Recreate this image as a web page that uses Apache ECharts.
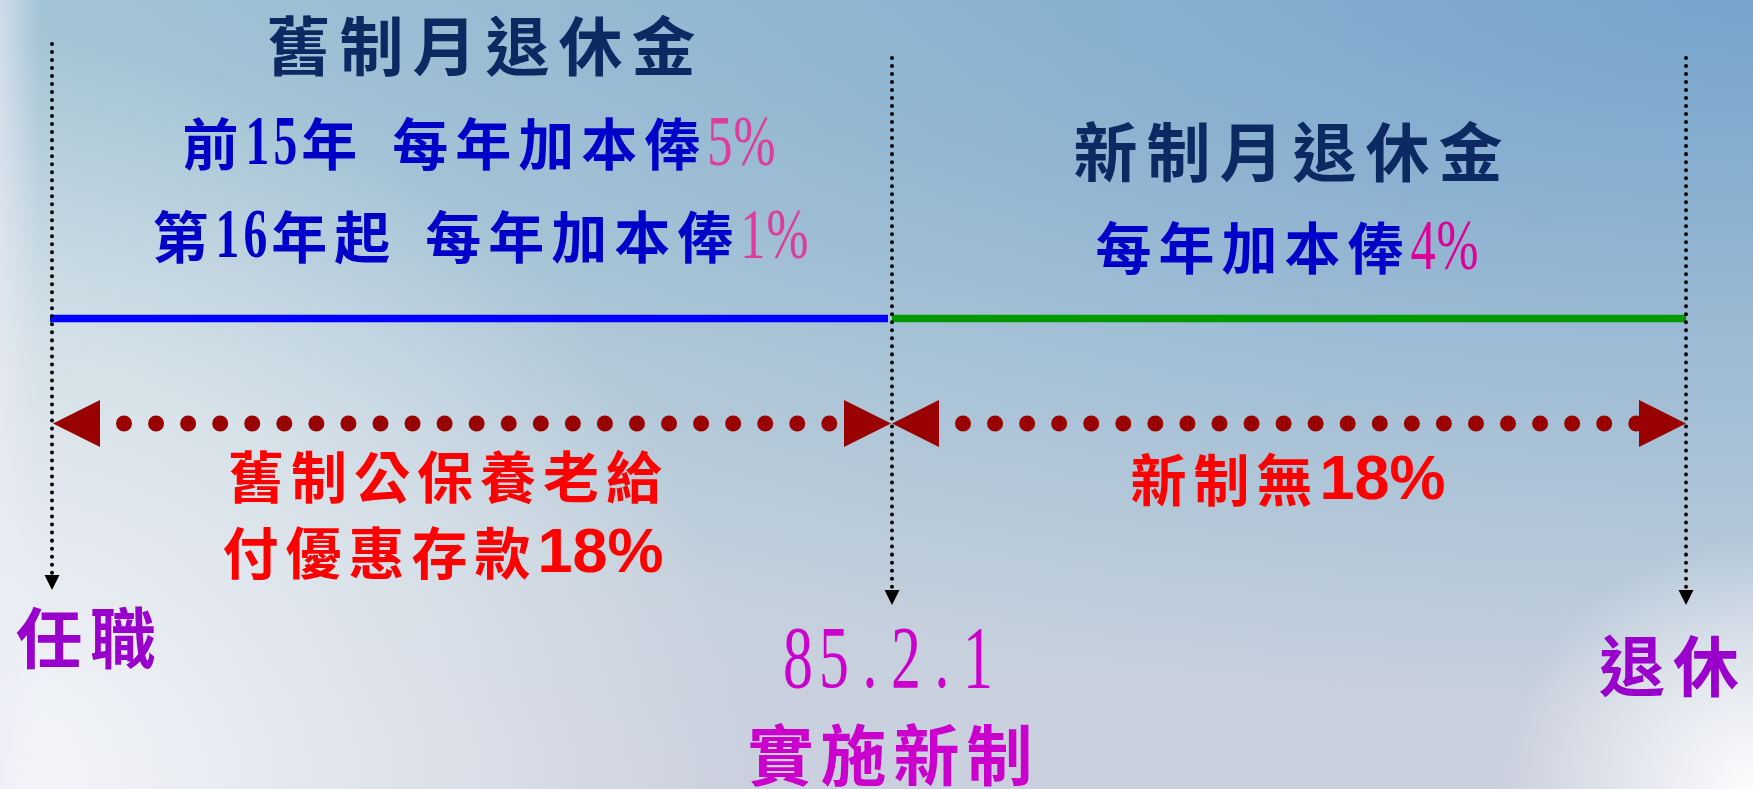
<!DOCTYPE html>
<html><head><meta charset="utf-8">
<script src="https://cdn.jsdelivr.net/npm/echarts@6/dist/echarts.min.js"></script>
<style>html,body{margin:0;padding:0;overflow:hidden;background:#fff}#c{width:1753px;height:789px}</style>
</head><body><div id="c"></div>
<script>
// ---------- data ----------
const milestoneNames = ['任職', '85.2.1', '退休'];
const reformNote = '實施新制';
const milestoneX = [52, 892, 1686];          // timeline positions of 任職 / 85.2.1 / 退休
const oldTitle = '舊制月退休金';
const newTitle = '新制月退休金';
const oldRulePrefixes = ['前15年', '第16年起'];
const raiseText = '每年加本俸';
const oldRates = ['5%', '1%'];
const newRates = ['4%'];
const oldDepositLines = ['舊制公保養老給', '付優惠存款'];
const oldDepositRate = '18%';
const newDepositText = '新制無';
const newDepositRate = '18%';

// ---------- layout ----------
const W = 1753, H = 789;
const CJK = '"Noto Sans CJK TC","Noto Sans CJK SC",sans-serif';
const pensionY = 318.5, depositY = 423.5;
const [x0, x1, x2] = milestoneX;
const A = 47;      // red arrowhead size
const B = 15;      // black arrowhead size
const vTop = [44, 58, 58], vTip = [590, 605, 605];

const mctx = document.createElement('canvas').getContext('2d');
function textW(s, font) { mctx.font = font; return mctx.measureText(s).width; }

const ST = {
  navy:   { font: 'bold 64px ' + CJK, color: '#0b2a62', ls: 9 },
  blue:   { font: 'bold 56px ' + CJK, color: '#0000c8', ls: 7 },
  blueNum:{ font: 'bold 70px "Liberation Serif"', color: '#0000c8', sx: 0.68, ls: 4, dy: 2 },
  pinkNum:{ font: '72px "Liberation Serif"', color: '#dc3c9c', sx: 0.7, ls: 1, dy: 2 },
  magNum: { font: '72px "Liberation Serif"', color: '#dd0099', sx: 0.7, ls: 1, dy: 2 },
  red:    { font: 'bold 56px ' + CJK, color: '#ff0000', ls: 7 },
  redNum: { font: 'bold 63px "Liberation Sans"', color: '#ff0000', ls: 0, dy: 2 },
  purple: { font: 'bold 66px ' + CJK, color: '#9900cc', ls: 8 },
  mag:    { font: 'bold 66px ' + CJK, color: '#cc00cc', ls: 7 },
  magMono:{ font: '88px "Liberation Serif"', color: '#cc00cc', sx: 0.68, pitch: 36, dy: 2 }
};
function runs(str, cjkStyle, numStyle) {
  const out = []; const re = /[0-9.%]+|\s+|[^0-9.%\s]+/g; let m;
  while ((m = re.exec(str))) {
    const t = m[0];
    if (/\s/.test(t)) out.push({ gap: 30 });
    else out.push({ t, s: /[0-9.%]/.test(t[0]) ? numStyle : cjkStyle });
  }
  return out;
}
function layoutLine(tokens, cx, cy) {
  const items = []; let x = 0, lastLs = 0;
  tokens.forEach(tok => {
    if (tok.gap) { x += tok.gap; lastLs = 0; return; }
    const st = ST[tok.s];
    for (const ch of tok.t) {
      const w = textW(ch, st.font) * (st.sx || 1);
      const adv = st.pitch || (w + (st.ls || 0));
      const off = st.pitch ? (st.pitch - w) / 2 : 0;
      items.push({ ch, st, x: x + off });
      x += adv; lastLs = st.pitch ? 0 : (st.ls || 0);
    }
  });
  const total = x - lastLs, left = cx - total / 2;
  return items.map(it => ({
    type: 'text', x: left + it.x, y: cy + (it.st.dy || 0), scaleX: it.st.sx || 1, z: 100, silent: true,
    style: { text: it.ch, font: it.st.font, fill: it.st.color, textAlign: 'left', textVerticalAlign: 'middle' }
  }));
}

let texts = [];
texts = texts.concat(layoutLine(runs(oldTitle, 'navy'), 481, 46));
const ruleCX = [479, 480.5], ruleCY = [144, 237];
oldRulePrefixes.forEach((p, i) => {
  const toks = runs(p, 'blue', 'blueNum').concat([{ gap: 28 }], runs(raiseText, 'blue'), [{ t: oldRates[i], s: 'pinkNum' }]);
  texts = texts.concat(layoutLine(toks, ruleCX[i], ruleCY[i]));
});
texts = texts.concat(layoutLine(runs(newTitle, 'navy'), 1288, 152));
texts = texts.concat(layoutLine(runs(raiseText, 'blue').concat([{ t: newRates[0], s: 'magNum' }]), 1287, 248));
texts = texts.concat(layoutLine(runs(oldDepositLines[0], 'red'), 445, 477));
texts = texts.concat(layoutLine(runs(oldDepositLines[1], 'red').concat([{ t: oldDepositRate, s: 'redNum' }]), 443, 553));
texts = texts.concat(layoutLine(runs(newDepositText, 'red').concat([{ t: newDepositRate, s: 'redNum' }]), 1288, 480));
texts = texts.concat(layoutLine(runs(milestoneNames[0], 'purple'), 86, 638));
texts = texts.concat(layoutLine([{ t: milestoneNames[1], s: 'magMono' }], 888, 662));
texts = texts.concat(layoutLine(runs(reformNote, 'mag'), 890, 755));
texts = texts.concat(layoutLine(runs(milestoneNames[2], 'purple'), 1669, 666));

const bg = [
  { type: 'rect', shape: { x: 0, y: 0, width: W, height: H }, z: 0, silent: true,
    style: { fill: { type: 'linear', x: 0, y: 0, x2: 0, y2: 1, colorStops: [
      { offset: 0, color: '#a8c8d6' }, { offset: 0.45, color: '#bed1db' }, { offset: 1, color: '#cbd0de' }] } } },
  // elliptical blue glow from the top-right corner
  { type: 'rect', shape: { x: 0, y: 0, width: W, height: W * 1.25 }, scaleY: (0.9 * H) / (1.1 * W), z: 0, silent: true,
    style: { fill: { type: 'radial', x: 1, y: 0, r: 1.1, colorStops: [
      { offset: 0, color: 'rgba(100,150,200,0.72)' }, { offset: 1, color: 'rgba(100,150,200,0)' }] } } },
  { type: 'rect', shape: { x: 0, y: 0, width: W, height: H }, z: 0, silent: true,
    style: { fill: { type: 'radial', x: 0, y: 1, r: 0.95, colorStops: [
      { offset: 0, color: 'rgba(250,251,253,0.9)' }, { offset: 1, color: 'rgba(250,251,253,0)' }] } } },
  { type: 'rect', shape: { x: 0, y: 0, width: W, height: H }, z: 0, silent: true,
    style: { fill: { type: 'radial', x: 1, y: 1, r: 0.32, colorStops: [
      { offset: 0, color: 'rgba(255,255,255,0.95)' }, { offset: 1, color: 'rgba(255,255,255,0)' }] } } },
  { type: 'rect', shape: { x: 0, y: 0, width: 40, height: H }, z: 0, silent: true,
    style: { fill: { type: 'linear', x: 0, y: 0, x2: 1, y2: 0, colorStops: [
      { offset: 0, color: 'rgba(236,236,246,0.6)' }, { offset: 1, color: 'rgba(236,236,246,0)' }] } } }
];

function seg(data, color, width, type, cap, z) {
  return { type: 'line', data, symbol: 'none', silent: true, animation: false, z, clip: false,
    lineStyle: { color, width, type, cap } };
}
const series = [
  seg([[x0 - 2, pensionY], [x1 - 4, pensionY]], '#0000ff', 7.5, 'solid', 'butt', 3),
  seg([[x1, pensionY], [x2, pensionY]], '#009900', 7.5, 'solid', 'butt', 3),
  seg([[x0 + 72, depositY], [x1 - 61, depositY]], '#990000', 16, [0.01, 32.05], 'round', 4),
  seg([[x1 + 71, depositY], [x2 - 48, depositY]], '#990000', 16, [0.01, 32.05], 'round', 4),
  { type: 'scatter', silent: true, animation: false, z: 5, symbol: 'triangle', symbolSize: [A, A],
    itemStyle: { color: '#990000', opacity: 1 },
    data: [
      { value: [x0 + 1 + A / 2, depositY], symbolRotate: 90 },
      { value: [x1 - 1 - A / 2, depositY], symbolRotate: -90 },
      { value: [x1 + A / 2, depositY], symbolRotate: 90 },
      { value: [x2 - A / 2, depositY], symbolRotate: -90 }
    ] }
];
milestoneX.forEach((x, i) => {
  series.push(seg([[x, vTop[i]], [x, vTip[i] - B]], '#000000', 4, [0.01, 8], 'round', 8));
});
series.push({ type: 'scatter', silent: true, animation: false, z: 9, symbol: 'triangle', symbolSize: [B, B],
  symbolRotate: 180, itemStyle: { color: '#000000', opacity: 1 },
  data: milestoneX.map((x, i) => [x, vTip[i] - B / 2]) });

const chart = echarts.init(document.getElementById('c'), null, { renderer: 'canvas' });
chart.setOption({
  animation: false,
  backgroundColor: '#c4d3de',
  grid: { left: 0, right: 0, top: 0, bottom: 0, containLabel: false },
  xAxis: { type: 'value', min: 0, max: W, show: false },
  yAxis: { type: 'value', min: 0, max: H, inverse: true, show: false },
  graphic: { elements: bg.concat(texts) },
  series
});
</script></body></html>
